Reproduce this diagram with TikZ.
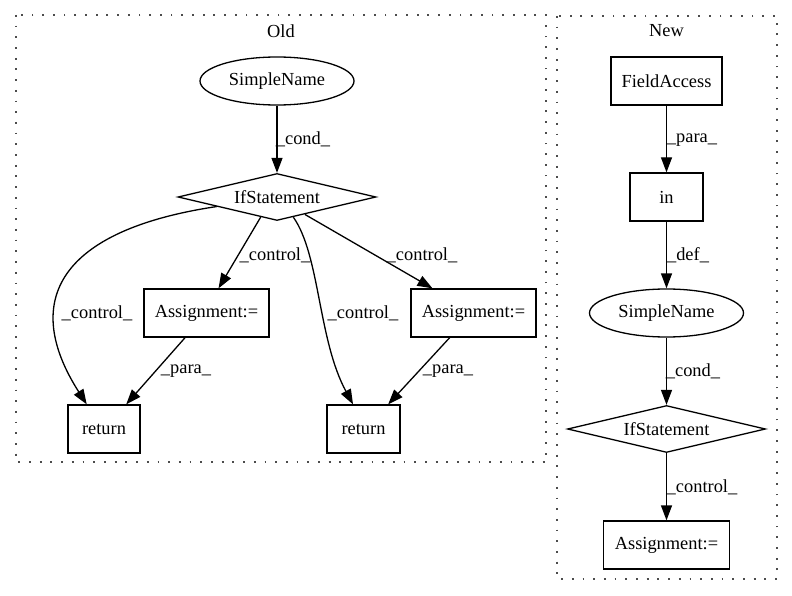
\documentclass[tikz,border=0pt]{standalone}
\usepackage{fontspec}
\setmainfont{Liberation Serif}
\usetikzlibrary{positioning,shapes.geometric,arrows.meta}

\begin{document}
\begin{tikzpicture}[x=1pt, y=-1pt,
    font=\fontsize{18.4}{22}\selectfont,
    box/.style={draw, line width=1.3pt, inner sep=0pt, minimum height=48pt},
    oval/.style={draw, ellipse, line width=1.3pt, inner sep=0pt, minimum width=154pt, minimum height=48pt},
    cond/.style={draw, diamond, aspect=4.1, line width=1.3pt, inner sep=0pt, minimum width=198pt, minimum height=47pt},
    edge/.style={line width=1.3pt, -{Triangle[length=15pt, width=11pt]}},
    lbl/.style={inner sep=0pt},
    cluster/.style={line width=1.8pt, black!70, dash pattern=on 1.8pt off 8.9pt}]
    \useasboundingbox (0,0) rectangle (792,596);
    % Clusters
    \draw[cluster] (16,15) rectangle (546,462);
    \draw[cluster] (557,16) rectangle (777,579);
    \node[lbl] (oldtitle) at (281,31) {Old};
    \node[lbl] (newtitle) at (666.5,31) {New};
    % Boxes
    \foreach \n/\x/\y/\w/\t in {as1/206.5/313/125/Assignment:=, as2/473.5/313/125/Assignment:=,
        ret1/104/429/72/return, ret2/363.5/429/73/return,
        fa/666.5/81/111/FieldAccess, inop/666.5/197/73/in, as3/666.5/545/126/Assignment:=} {
      \node[box, minimum width=\w pt] (\n) at (\x,\y) {\t};
    }
    % Names and conditions
    \node[oval] (sn1) at (277,81) {SimpleName};
    \node[cond] (if1) at (277,197) {IfStatement};
    \node[oval] (sn2) at (666.5,313) {SimpleName};
    \node[cond] (if2) at (666.5,429) {IfStatement};
    % Edges for Old
    \draw[edge] (sn1) -- (if1) node[lbl] at (303,139) {\_cond\_};
    \draw[edge] (if1.-129) -- (as1.64) node[lbl] at (275,255) {\_control\_};
    \draw[edge] (if1.-32.7) -- (as2.149.4) node[lbl] at (422,255) {\_control\_};
    \draw[edge] (if1.-171) .. controls (60,230) and (20,300) .. (ret1.125.3)
      node[lbl] at (97,313) {\_control\_};
    \draw[edge] (if1.-51.3) .. controls (320,255) and (318,340) .. (ret2.113.6)
      node[lbl] at (363,313) {\_control\_};
    \draw[edge] (as1.-131.9) -- (ret1.48.8) node[lbl] at (186,371) {\_para\_};
    \draw[edge] (as2.-134.4) -- (ret2.45.6) node[lbl] at (448,371) {\_para\_};
    % Edges for New
    \draw[edge] (fa) -- (inop) node[lbl] at (692,140) {\_para\_};
    \draw[edge] (inop) -- (sn2) node[lbl] at (688,255) {\_def\_};
    \draw[edge] (sn2) -- (if2) node[lbl] at (693,371) {\_cond\_};
    \draw[edge] (if2) -- (as3) node[lbl] at (702,487) {\_control\_};
  \end{tikzpicture}
\end{document}
